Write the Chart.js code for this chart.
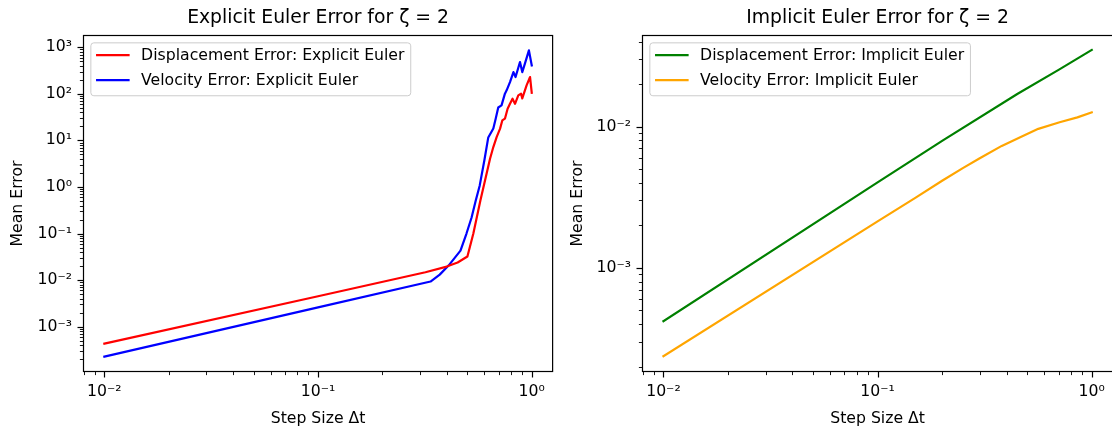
<!DOCTYPE html>
<html>
<head>
<meta charset="utf-8">
<script src="https://cdn.jsdelivr.net/npm/chart.js@4.4.1/dist/chart.umd.min.js"></script>
<style>
  html, body { margin: 0; padding: 0; background: #fff; overflow: hidden; width: 1112px; height: 432px; }
  #left { position: absolute; left: 0; top: 0; }
  #right { position: absolute; left: 556px; top: 0; }
</style>
</head>
<body>
<canvas id="left" width="556" height="432"></canvas>
<canvas id="right" width="560" height="432"></canvas>
<script>
// values (step size dt -> mean error)
const dtDispExplicit = [0.01, 0.1, 0.318, 0.4, 0.45, 0.5, 0.533, 0.575, 0.638, 0.661, 0.685, 0.711, 0.728, 0.749, 0.771, 0.791, 0.813, 0.835, 0.865, 0.891, 0.903, 0.946, 0.982, 1.0];
const errDispExplicit = [4.3e-4, 4.5e-3, 1.47e-2, 1.95e-2, 2.38e-2, 3.2e-2, 0.1, 0.513, 4.04, 7.2, 11.8, 17.9, 26.9, 29.3, 48, 61.5, 78.9, 61, 92.9, 101, 80, 152, 230, 106];

const dtVelExplicit = [0.01, 0.1, 0.336, 0.371, 0.408, 0.464, 0.495, 0.523, 0.547, 0.571, 0.6, 0.626, 0.661, 0.678, 0.697, 0.722, 0.749, 0.763, 0.791, 0.821, 0.84, 0.881, 0.903, 0.929, 0.97, 1.0];
const errVelExplicit = [2.27e-4, 2.6e-3, 9.3e-3, 1.31e-2, 2.05e-2, 4.3e-2, 0.1, 0.221, 0.513, 1.08, 3.7, 11.6, 18.1, 29.3, 51, 56.6, 101, 119, 179, 294, 230, 483, 294, 446, 862, 410];

const dtDispImplicit = [0.01, 0.1, 0.201, 0.449, 0.7, 1.0];
const errDispImplicit = [4.19e-4, 4.03e-3, 7.96e-3, 1.7e-2, 2.52e-2, 3.49e-2];

const dtVelImplicit = [0.01, 0.1, 0.15, 0.201, 0.25, 0.3, 0.38, 0.466, 0.563, 0.708, 0.857, 1.0];
const errVelImplicit = [2.37e-4, 2.13e-3, 3.13e-3, 4.15e-3, 5.08e-3, 5.96e-3, 7.3e-3, 8.43e-3, 9.64e-3, 1.072e-2, 1.162e-2, 1.262e-2];

const xMajor = [0.01, 0.1, 1];
const xTickLabels = ['10⁻²', '10⁻¹', '10⁰'];
const yMajorLeft = [1e-3, 1e-2, 1e-1, 1, 10, 100, 1000];
const yTickLabelsLeft = ['10⁻³', '10⁻²', '10⁻¹', '10⁰', '10¹', '10²', '10³'];
const yMajorRight = [1e-3, 1e-2];
const yTickLabelsRight = ['10⁻³', '10⁻²'];

const FS = 15.7;
Chart.defaults.font.family = '"DejaVu Sans", sans-serif';
Chart.defaults.color = '#000';

// major + minor log ticks between lo and hi
function logTicks(lo, hi) {
  const out = [];
  for (let e = Math.floor(Math.log10(lo)); e <= Math.ceil(Math.log10(hi)); e++) {
    for (let m = 1; m < 10; m++) {
      const v = m * Math.pow(10, e);
      if (v >= lo && v <= hi) out.push({ value: v, major: m === 1 });
    }
  }
  return out;
}

function labelFor(v, majors, labels) {
  const i = majors.findIndex(m => Math.abs(Math.log10(v) - Math.log10(m)) < 1e-6);
  return i < 0 ? '' : labels[i];
}

// matplotlib-like spines, tick marks and legend box
const mplLook = {
  id: 'mplLook',
  afterDatasetsDraw(chart) {
    const { ctx, chartArea: a } = chart;
    const ds = chart.data.datasets;
    ctx.save();
    ctx.font = FS + 'px "DejaVu Sans"';
    let tw = 0;
    ds.forEach(d => { tw = Math.max(tw, ctx.measureText(d.label).width); });
    const fx = a.left + 7.85, fy = a.top + 7.85;
    const fw = 6.28 + 31.4 + 12.56 + tw + 6.28;
    const fh = 52.9;
    ctx.beginPath();
    ctx.roundRect(fx, fy, fw, fh, 3);
    ctx.fillStyle = 'rgba(255,255,255,0.8)';
    ctx.fill();
    ctx.strokeStyle = '#cccccc';
    ctx.lineWidth = 1;
    ctx.stroke();
    ds.forEach((d, i) => {
      const y = fy + 12.2 + i * 25;
      ctx.beginPath();
      ctx.moveTo(fx + 6.28, y);
      ctx.lineTo(fx + 6.28 + 31.4, y);
      ctx.strokeStyle = d.borderColor;
      ctx.lineWidth = 2.2;
      ctx.lineCap = 'square';
      ctx.stroke();
      ctx.fillStyle = '#000';
      ctx.textBaseline = 'middle';
      ctx.textAlign = 'left';
      ctx.fillText(d.label, fx + 6.28 + 31.4 + 12.56, y + 1);
    });
    ctx.restore();
  },
  afterDraw(chart) {
    const { ctx, chartArea: a, scales } = chart;
    ctx.save();
    ctx.strokeStyle = '#000';
    scales.x.ticks.forEach(t => {
      const px = Math.round(scales.x.getPixelForValue(t.value)) + 0.5;
      ctx.lineWidth = t.major ? 1.2 : 0.9;
      ctx.beginPath();
      ctx.moveTo(px, a.bottom);
      ctx.lineTo(px, a.bottom + (t.major ? 5.5 : 3.1));
      ctx.stroke();
    });
    scales.y.ticks.forEach(t => {
      const py = Math.round(scales.y.getPixelForValue(t.value)) + 0.5;
      ctx.lineWidth = t.major ? 1.2 : 0.9;
      ctx.beginPath();
      ctx.moveTo(a.left, py);
      ctx.lineTo(a.left - (t.major ? 5.5 : 3.1), py);
      ctx.stroke();
    });
    ctx.lineWidth = 1.2;
    ctx.strokeRect(a.left + 0.5, a.top + 0.5, a.width - 1, a.height - 1);
    ctx.restore();
  }
};

function makeChart(id, cfg) {
  const xMin = Math.pow(10, -2.1), xMax = Math.pow(10, 0.1);
  return new Chart(document.getElementById(id), {
    type: 'line',
    data: { datasets: cfg.datasets },
    options: {
      responsive: false,
      animation: false,
      layout: { padding: { left: 0, right: cfg.padRight, top: 0, bottom: 0 } },
      elements: {
        point: { radius: 0 },
        line: { borderWidth: 2.2, tension: 0, borderCapStyle: 'square', borderJoinStyle: 'round' }
      },
      plugins: {
        legend: { display: false },
        tooltip: { enabled: false },
        title: {
          display: true,
          text: cfg.title,
          fullSize: false,
          font: { size: 18.8, weight: 'normal' },
          padding: { top: 7, bottom: 5.44 }
        }
      },
      scales: {
        x: {
          type: 'logarithmic',
          min: xMin,
          max: xMax,
          afterBuildTicks: s => { s.ticks = logTicks(xMin, xMax); },
          afterFit: s => { s.height = 60; },
          grid: { display: false, drawTicks: false },
          border: { display: false },
          ticks: {
            autoSkip: false, maxRotation: 0, padding: 11,
            font: { size: FS },
            callback: v => labelFor(v, xMajor, xTickLabels)
          },
          title: { display: true, text: 'Step Size Δt', font: { size: FS }, padding: { top: 0, bottom: 3.6 } }
        },
        y: {
          type: 'logarithmic',
          min: cfg.yMin,
          max: cfg.yMax,
          afterBuildTicks: s => { s.ticks = logTicks(cfg.yMin, cfg.yMax); },
          afterFit: s => { s.width = cfg.axisLeft; },
          grid: { display: false, drawTicks: false },
          border: { display: false },
          ticks: {
            autoSkip: false, padding: 11,
            font: { size: FS },
            callback: v => labelFor(v, cfg.yMajor, cfg.yLabels)
          },
          title: { display: true, text: 'Mean Error', font: { size: FS }, padding: { top: cfg.yTitlePad, bottom: 0 } }
        }
      }
    },
    plugins: [mplLook]
  });
}

function pts(xs, ys) { return xs.map((x, i) => ({ x: x, y: ys[i] })); }

makeChart('left', {
  title: 'Explicit Euler Error for ζ = 2',
  yMin: 1.06e-4, yMax: 1840,
  yMajor: yMajorLeft, yLabels: yTickLabelsLeft,
  axisLeft: 83, padRight: 1, yTitlePad: 8.6,
  datasets: [
    { label: 'Displacement Error: Explicit Euler', data: pts(dtDispExplicit, errDispExplicit), borderColor: '#ff0000', backgroundColor: '#ff0000' },
    { label: 'Velocity Error: Explicit Euler', data: pts(dtVelExplicit, errVelExplicit), borderColor: '#0000ff', backgroundColor: '#0000ff' }
  ]
});

makeChart('right', {
  title: 'Implicit Euler Error for ζ = 2',
  yMin: 1.83e-4, yMax: 0.0445,
  yMajor: yMajorRight, yLabels: yTickLabelsRight,
  axisLeft: 86, padRight: 2, yTitlePad: 12.3,
  datasets: [
    { label: 'Displacement Error: Implicit Euler', data: pts(dtDispImplicit, errDispImplicit), borderColor: '#008000', backgroundColor: '#008000' },
    { label: 'Velocity Error: Implicit Euler', data: pts(dtVelImplicit, errVelImplicit), borderColor: '#ffa500', backgroundColor: '#ffa500' }
  ]
});
</script>
</body>
</html>
